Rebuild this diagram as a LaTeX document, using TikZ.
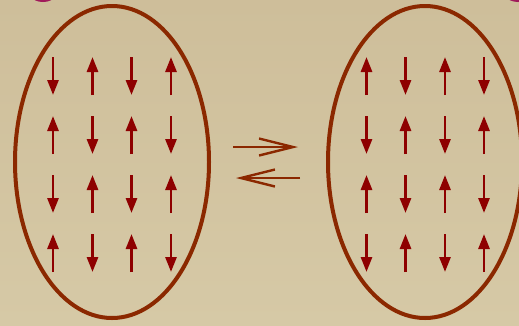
\documentclass[tikz,border=0pt]{standalone}
\usetikzlibrary{arrows.meta,shapes.geometric}
\definecolor{bgtop}{HTML}{CEBE9A}
\definecolor{bgbot}{HTML}{D6C9A6}
\definecolor{rim}{HTML}{8B2800}
\definecolor{spin}{HTML}{8E0000}
\definecolor{plum}{HTML}{A01A5A}
\tikzset{
  cell/.style={draw=rim, line width=4pt, ellipse, minimum width=194pt, minimum height=312pt, inner sep=0pt},
  spinarrow/.style={draw=spin, line width=2.7pt, -{Triangle[length=15pt,width=11pt]}},
  flux/.style={draw=rim, line width=2.4pt, -{Straight Barb[length=34pt,width=17pt,line width=2.4pt]}},
  blob/.style={draw=plum, line width=4pt}
}
\begin{document}
\begin{tikzpicture}[x=1pt,y=-1pt]
  % backdrop
  \shade[top color=bgtop, bottom color=bgbot] (0,0) rectangle (519,325);
  \useasboundingbox (0,0) rectangle (519,325);
  \begin{scope}
    \clip (0,0) rectangle (519,325);
    % rings peeking in at the top corners
    \draw[blob] (30,-6) .. controls (37,2) and (49,2) .. (56,-6);
    \draw[blob] (505,-6) .. controls (512,2) and (524,2) .. (531,-6);
    % the two domains
    \node[cell] (left) at (112,162) {};
    \node[cell] (right) at (425,162) {};
  \end{scope}
  % spins in the left domain
  \foreach \r/\y in {0/57,1/116,2/175,3/234}{
    \foreach \c/\x in {0/53,1/92.5,2/131.5,3/171}{
      \pgfmathtruncatemacro{\parity}{mod(\r+\c,2)}
      \ifnum\parity=0
        \draw[spinarrow] (\x,\y) -- (\x,\y+38);
      \else
        \draw[spinarrow] (\x,\y+38) -- (\x,\y);
      \fi
    }
  }
  % spins in the right domain
  \foreach \r/\y in {0/57,1/116,2/175,3/234}{
    \foreach \c/\x in {0/366.5,1/405.5,2/445,3/484}{
      \pgfmathtruncatemacro{\parity}{mod(\r+\c,2)}
      \ifnum\parity=1
        \draw[spinarrow] (\x,\y) -- (\x,\y+38);
      \else
        \draw[spinarrow] (\x,\y+38) -- (\x,\y);
      \fi
    }
  }
  % exchange arrows between the domains
  \coordinate (fwdA) at (233,147);
  \coordinate (fwdB) at (298,147);
  \coordinate (bckA) at (300,178);
  \coordinate (bckB) at (236,178);
  \draw[flux] (fwdA) -- (fwdB);
  \draw[flux] (bckA) -- (bckB);
\end{tikzpicture}
\end{document}
